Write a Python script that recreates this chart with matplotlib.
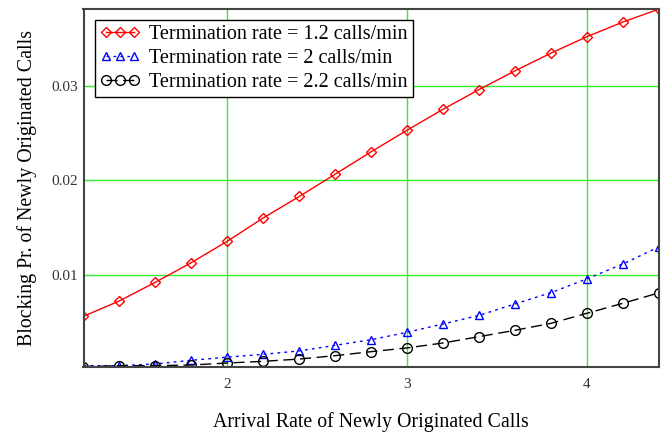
import matplotlib
matplotlib.use("Agg")
import matplotlib.pyplot as plt

x_vals = [1.2, 1.4, 1.6, 1.8, 2.0, 2.2, 2.4, 2.6, 2.8, 3.0, 3.2, 3.4, 3.6, 3.8, 4.0, 4.2, 4.4]
red_vals = [0.00562, 0.00725, 0.00922, 0.0113, 0.01356, 0.01603, 0.01829, 0.02065, 0.02302,
            0.0253, 0.02752, 0.0296, 0.03158, 0.03345, 0.03519, 0.03674, 0.0381]
blue_vals = [0.0004, 0.0004, 0.00058, 0.00097, 0.0013, 0.0016, 0.00196, 0.00255, 0.00315,
             0.00393, 0.00481, 0.00572, 0.00693, 0.00813, 0.00958, 0.01116, 0.01296]
black_vals = [0.0003, 0.0004, 0.0004, 0.00047, 0.00068, 0.00086, 0.0011, 0.00146, 0.00188,
              0.00228, 0.0028, 0.00347, 0.00414, 0.00488, 0.00594, 0.007, 0.0081]
labels = ["Termination rate = 1.2 calls/min",
          "Termination rate = 2 calls/min",
          "Termination rate = 2.2 calls/min"]
x_ticks = [2, 3, 4]
y_ticks = [0.01, 0.02, 0.03]
y_tick_labels = ["0.01", "0.02", "0.03"]

plt.rcParams['font.family'] = ['Liberation Serif', 'DejaVu Serif']

fig = plt.figure(figsize=(6.68, 4.34), dpi=100)
ax = fig.add_axes([0.125, 0.1544, 0.8615, 0.8246])

ax.plot(x_vals, red_vals, color='red', lw=1.0, ls='-', marker='D', ms=5.5,
        mfc='none', mec='red', mew=1.0, label=labels[0])
ax.plot(x_vals, blue_vals, color='blue', lw=1.0, ls=(0, (2, 3)), marker='^', ms=6,
        mfc='none', mec='blue', mew=1.0, label=labels[1])
ax.plot(x_vals, black_vals, color='black', lw=1.0, ls=(0, (8, 4)), marker='o', ms=7,
        mfc='none', mec='black', mew=1.0, label=labels[2])

ax.set_xlim(1.2, 4.4)
ax.set_ylim(0.00026, 0.0381)
ax.set_xticks(x_ticks)
ax.set_xticklabels([str(t) for t in x_ticks])
ax.set_yticks(y_ticks)
ax.set_yticklabels(y_tick_labels)
ax.tick_params(length=0, labelsize=11, labelcolor='#333333')
ax.tick_params(axis='x', pad=8)
ax.tick_params(axis='y', pad=4)
ax.grid(True, color='#33ee33', lw=1.0)
ax.set_axisbelow(True)

for s in ax.spines.values():
    s.set_color('#444444')
    s.set_linewidth(1.5)

ax.set_xlabel("Arrival Rate of Newly Originated Calls", fontsize=14.3, labelpad=15)
ax.set_ylabel("Blocking Pr. of Newly Originated Calls", fontsize=14.3, labelpad=10)

leg = ax.legend(loc='upper left', bbox_to_anchor=(0.02, 0.97), fontsize=14.5,
                numpoints=3, handlelength=2.0, handletextpad=0.45, borderpad=0.25,
                labelspacing=0.25, fancybox=False, framealpha=1, edgecolor='black',
                borderaxespad=0)
leg.get_frame().set_linewidth(1.0)

fig.savefig("out.png", dpi=100)
